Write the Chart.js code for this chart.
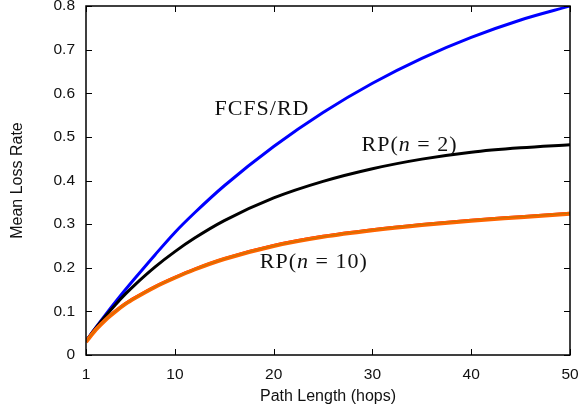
<!DOCTYPE html>
<html>
<head>
<meta charset="utf-8">
<script src="https://cdn.jsdelivr.net/npm/chart.js@4"></script>
<style>
  html, body { margin: 0; padding: 0; background: #fff; }
  #wrap { width: 579px; height: 410px; }
</style>
</head>
<body>
<div id="wrap"><canvas id="lossChart" width="579" height="410"></canvas></div>
<script>
// Path lengths (hops) where the curves were read
const hops = [1, 2, 3, 4, 5, 6, 8, 10, 12, 15, 20, 25, 30, 35, 40, 45, 50];

// Mean loss rate per scheme
const fcfsRd = [0.032, 0.063, 0.093, 0.122, 0.150, 0.177, 0.230, 0.281, 0.326, 0.388, 0.478, 0.556, 0.623, 0.680, 0.728, 0.768, 0.800];
const rp2 = [0.032, 0.062, 0.090, 0.116, 0.140, 0.162, 0.202, 0.237, 0.268, 0.308, 0.360, 0.398, 0.427, 0.449, 0.465, 0.475, 0.482];
const rp10Red = [0.031, 0.059, 0.082, 0.101, 0.118, 0.132, 0.157, 0.178, 0.197, 0.221, 0.251, 0.272, 0.287, 0.299, 0.309, 0.317, 0.325];
const rp10 = [0.030, 0.058, 0.081, 0.100, 0.117, 0.131, 0.156, 0.177, 0.196, 0.220, 0.250, 0.271, 0.286, 0.298, 0.308, 0.316, 0.324];
const rp10Green = [0.030, 0.058, 0.081, 0.100, 0.117, 0.131, 0.156, 0.177, 0.196, 0.220, 0.250, 0.271, 0.287, 0.299, 0.309, 0.317, 0.325];

// Tick values
const xTicks = [1, 10, 20, 30, 40, 50];
const yTicks = [0, 0.1, 0.2, 0.3, 0.4, 0.5, 0.6, 0.7, 0.8];

// Curve labels, anchored in data coordinates (left edge, vertical middle)
const curveLabels = [
    { parts: [['FCFS/RD', false]], x: 14.0, y: 0.563 },
    { parts: [['RP(', false], ['n', true], [' = 2)', false]], x: 28.9, y: 0.482 },
    { parts: [['RP(', false], ['n', true], [' = 10)', false]], x: 18.6, y: 0.212 }
];

function toPoints(values) {
    return hops.map((h, i) => ({ x: h, y: values[i] }));
}

function lineSet(label, values, color, width) {
    return {
        label: label,
        data: toPoints(values),
        borderColor: color,
        borderWidth: width,
        pointRadius: 0,
        cubicInterpolationMode: 'monotone',
        fill: false
    };
}

// Box around the plot with inward ticks on all four sides, plus curve labels
const frameAndLabels = {
    id: 'frameAndLabels',
    afterDatasetsDraw(chart) {
        const { ctx, chartArea: a, scales } = chart;
        const tick = 6;
        ctx.save();
        ctx.strokeStyle = '#000';
        ctx.lineWidth = 1;
        ctx.beginPath();
        xTicks.forEach(v => {
            const px = Math.round(scales.x.getPixelForValue(v)) + 0.5;
            ctx.moveTo(px, a.bottom); ctx.lineTo(px, a.bottom - tick);
            ctx.moveTo(px, a.top); ctx.lineTo(px, a.top + tick);
        });
        yTicks.forEach(v => {
            const py = Math.round(scales.y.getPixelForValue(v)) + 0.5;
            ctx.moveTo(a.left, py); ctx.lineTo(a.left + tick, py);
            ctx.moveTo(a.right, py); ctx.lineTo(a.right - tick, py);
        });
        ctx.stroke();
        ctx.lineWidth = 1.5;
        ctx.strokeRect(a.left, a.top, a.right - a.left, a.bottom - a.top);

        ctx.fillStyle = '#111';
        ctx.textBaseline = 'middle';
        ctx.letterSpacing = '1px';
        curveLabels.forEach(lab => {
            let px = scales.x.getPixelForValue(lab.x);
            const py = scales.y.getPixelForValue(lab.y);
            lab.parts.forEach(([txt, italic]) => {
                ctx.font = (italic ? 'italic ' : '') + '22px "Liberation Serif", "DejaVu Serif", serif';
                ctx.fillText(txt, px, py);
                px += ctx.measureText(txt).width;
            });
        });
        ctx.restore();
    }
};

const tickFont = { family: '"Liberation Sans", Arial, sans-serif', size: 15.5 };
const titleFont = { family: '"Liberation Sans", Arial, sans-serif', size: 16 };

// Chart.js paints the first dataset last, so the topmost curve comes first
new Chart(document.getElementById('lossChart').getContext('2d'), {
    type: 'line',
    data: {
        datasets: [
            lineSet('RP(n=10) c', rp10Green, 'rgba(60,150,0,0.3)', 1),
            lineSet('RP(n=10) b', rp10, 'rgb(255,100,0)', 4),
            lineSet('RP(n=10) a', rp10Red, 'rgb(255,0,0)', 3),
            lineSet('RP(n=2)', rp2, 'rgb(0,0,0)', 3),
            lineSet('FCFS/RD', fcfsRd, 'rgb(0,0,255)', 3)
        ]
    },
    options: {
        responsive: false,
        animation: false,
        devicePixelRatio: 1,
        layout: { padding: { top: 6, right: 9, left: 0, bottom: 0 } },
        plugins: {
            legend: { display: false },
            tooltip: { enabled: false }
        },
        scales: {
            x: {
                type: 'linear',
                min: 1,
                max: 50,
                afterBuildTicks: axis => { axis.ticks = xTicks.map(v => ({ value: v })); },
                afterFit: axis => {
                    axis.height = 55;
                    axis.paddingLeft = 0;
                    axis.paddingRight = 0;
                },
                grid: { display: false, drawTicks: false },
                border: { display: false },
                ticks: { color: '#111', font: tickFont, padding: 10, maxRotation: 0 },
                title: { display: true, text: 'Path Length (hops)', color: '#111', font: titleFont, padding: { top: 0, bottom: 4 } }
            },
            y: {
                type: 'linear',
                min: 0,
                max: 0.8,
                afterBuildTicks: axis => { axis.ticks = yTicks.map(v => ({ value: v })); },
                afterFit: axis => {
                    axis.width = 86;
                    axis.paddingTop = 0;
                    axis.paddingBottom = 0;
                },
                grid: { display: false, drawTicks: false },
                border: { display: false },
                ticks: { color: '#111', font: tickFont, padding: 11, callback: v => String(Math.round(v * 10) / 10) },
                title: { display: true, text: 'Mean Loss Rate', color: '#111', font: titleFont, padding: { top: 8, bottom: 0 } }
            }
        }
    },
    plugins: [frameAndLabels]
});
</script>
</body>
</html>
